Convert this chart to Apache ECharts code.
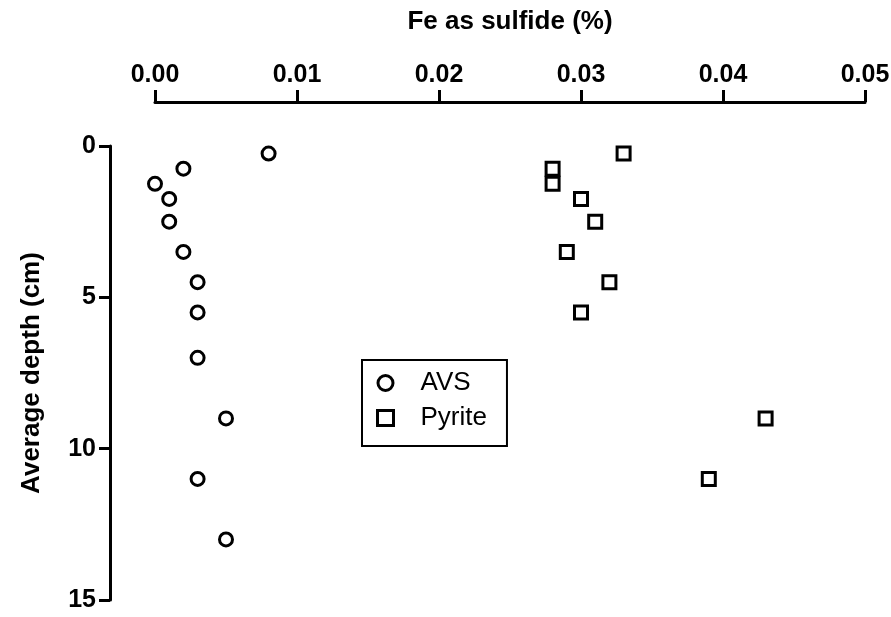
<!DOCTYPE html>
<html>
<head>
<meta charset="utf-8">
<script src="https://cdn.jsdelivr.net/npm/echarts@6/dist/echarts.min.js"></script>
<style>
html,body{margin:0;padding:0;background:#fff;}
#chart{width:891px;height:617px;}
</style>
</head>
<body>
<div id="chart"></div>
<script>
const avsDepth = [0.25, 0.75, 1.25, 1.75, 2.5, 3.5, 4.5, 5.5, 7, 9, 11, 13];
const avsFe = [0.008, 0.002, 0.0, 0.001, 0.001, 0.002, 0.003, 0.003, 0.003, 0.005, 0.003, 0.005];
const pyriteDepth = [0.25, 0.75, 1.25, 1.75, 2.5, 3.5, 4.5, 5.5, 9, 11];
const pyriteFe = [0.033, 0.028, 0.028, 0.030, 0.031, 0.029, 0.032, 0.030, 0.043, 0.039];
const seriesNames = ['AVS', 'Pyrite'];
const xTitle = 'Fe as sulfide (%)';
const yTitle = 'Average depth (cm)';

const chart = echarts.init(document.getElementById('chart'), null, {renderer: 'canvas'});
const font = 'Liberation Sans, Arial, sans-serif';
const mk = (xs, ys) => xs.map((x, i) => [x, ys[i]]);
const pointStyle = {color: '#ffffff', borderColor: '#000000', borderWidth: 3, opacity: 1};

chart.setOption({
  animation: false,
  backgroundColor: '#ffffff',
  grid: {left: 155, right: 26, top: 146, bottom: 17, outerBoundsMode: 'none', containLabel: false},
  xAxis: {
    type: 'value', position: 'top', offset: 44,
    min: 0, max: 0.05, interval: 0.01,
    name: xTitle, nameLocation: 'middle', nameGap: 67,
    nameTextStyle: {fontFamily: font, fontWeight: 'bold', fontSize: 26, color: '#000'},
    axisLine: {show: true, onZero: false, lineStyle: {color: '#000', width: 3}},
    axisTick: {show: true, length: 12, inside: false, lineStyle: {color: '#000', width: 3}},
    axisLabel: {fontFamily: font, fontWeight: 'bold', fontSize: 25, color: '#000', margin: 14,
      formatter: v => v.toFixed(2)},
    splitLine: {show: false}
  },
  yAxis: {
    type: 'value', inverse: true, offset: 45,
    min: 0, max: 15, interval: 5,
    name: yTitle, nameLocation: 'middle', nameGap: 65, nameRotate: 90,
    nameTextStyle: {fontFamily: font, fontWeight: 'bold', fontSize: 26, color: '#000'},
    axisLine: {show: true, onZero: false, lineStyle: {color: '#000', width: 3}},
    axisTick: {show: true, length: 11, lineStyle: {color: '#000', width: 3}},
    axisLabel: {fontFamily: font, fontWeight: 'bold', fontSize: 25, color: '#000', margin: 14},
    splitLine: {show: false}
  },
  legend: {
    orient: 'vertical', left: 362, top: 360,
    borderColor: '#000', borderWidth: 2, padding: [10, 20, 15, 14],
    itemGap: 9, itemWidth: 16, itemHeight: 15,
    textStyle: {fontFamily: font, fontSize: 26, lineHeight: 26, color: '#000', padding: [0, 0, 0, 22]},
    data: [
      {name: seriesNames[0], icon: 'circle', itemStyle: pointStyle},
      {name: seriesNames[1], icon: 'rect', itemStyle: pointStyle}
    ]
  },
  series: [
    {name: seriesNames[0], type: 'scatter', symbol: 'circle', symbolSize: 13,
     itemStyle: pointStyle, data: mk(avsFe, avsDepth)},
    {name: seriesNames[1], type: 'scatter', symbol: 'rect', symbolSize: 13,
     itemStyle: pointStyle, data: mk(pyriteFe, pyriteDepth)}
  ]
});
</script>
</body>
</html>
